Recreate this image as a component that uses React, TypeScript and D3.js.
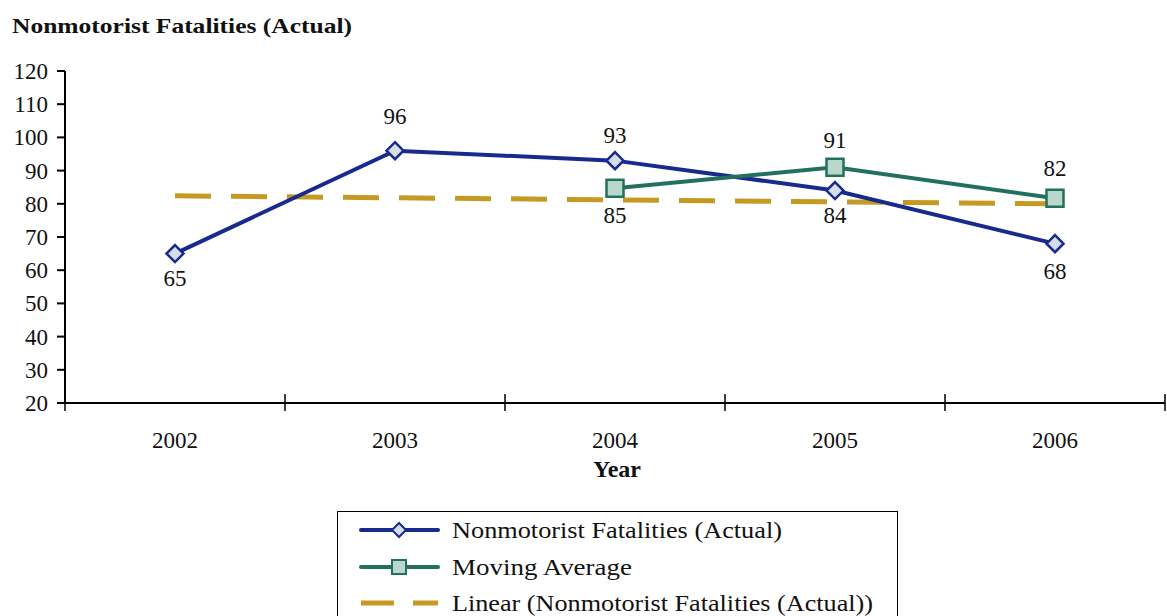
import React from "react";
import * as d3 from "d3";

const years = ["2002", "2003", "2004", "2005", "2006"];
const actual = [65, 96, 93, 84, 68];
const movingAvgYears = ["2004", "2005", "2006"];
const movingAvg = [84.67, 91, 81.67];
const yTicks = [20, 30, 40, 50, 60, 70, 80, 90, 100, 110, 120];
const actualLabelOffset = [24, -35, -26, 24, 27];
const maLabelOffset = [27, -27, -30];

const NAVY = "#182a8e";
const NAVY_FILL = "#d5dcea";
const GREEN = "#23705e";
const GREEN_FILL = "#b9d8cb";
const GOLD = "#c59a22";
const FONT = "'Liberation Serif', 'DejaVu Serif', serif";

export default function App() {
  const W = 1167, H = 616;
  const left = 65, right = 1165, top = 71, bottom = 403;
  const x = d3.scaleBand().domain(years).range([left, right]).padding(0);
  const cx = (yr: string) => (x(yr) as number) + x.bandwidth() / 2;
  const y = d3.scaleLinear().domain([20, 120]).range([bottom, top]);

  const line = d3.line<[string, number]>().x(d => cx(d[0])).y(d => y(d[1]));
  const actualPts: [string, number][] = years.map((yr, i) => [yr, actual[i]]);
  const maPts: [string, number][] = movingAvgYears.map((yr, i) => [yr, movingAvg[i]]);

  const xs = years.map((_, i) => i + 1);
  const mx = d3.mean(xs) as number;
  const my = d3.mean(actual) as number;
  const slope = d3.sum(xs.map((v, i) => (v - mx) * (actual[i] - my))) / d3.sum(xs.map(v => (v - mx) ** 2));
  const icpt = my - slope * mx;
  const trendPts: [string, number][] = [
    [years[0], icpt + slope * xs[0]],
    [years[years.length - 1], icpt + slope * xs[xs.length - 1]],
  ];

  const diamond = (px: number, py: number, r = 8.5) =>
    `M${px},${py - r}L${px + r},${py}L${px},${py + r}L${px - r},${py}Z`;

  const FS = 23;

  return (
    <svg width={W} height={H} style={{ position: "absolute", left: 0, top: 0, background: "#fff" }} fontFamily={FONT}>
      <text x={12} y={33} fontSize={22} fontWeight="bold" fill="#111" textLength={340} lengthAdjust="spacingAndGlyphs">
        Nonmotorist Fatalities (Actual)
      </text>

      <line x1={left} x2={left} y1={top} y2={bottom} stroke="#000" strokeWidth={2} />
      {yTicks.map(t => (
        <g key={t}>
          <line x1={left - 8} x2={left} y1={y(t)} y2={y(t)} stroke="#000" strokeWidth={2} />
          <text x={left - 17} y={y(t)} dy="0.35em" textAnchor="end" fontSize={FS} fill="#111">{t}</text>
        </g>
      ))}

      <line x1={left} x2={right} y1={bottom} y2={bottom} stroke="#000" strokeWidth={2} />
      {years.map((yr, i) => (
        <line key={"t" + i} x1={x(yr) as number} x2={x(yr) as number} y1={bottom - 9} y2={bottom + 8} stroke="#000" strokeWidth={1.5} />
      ))}
      <line x1={right} x2={right} y1={bottom - 9} y2={bottom + 8} stroke="#000" strokeWidth={1.5} />
      {years.map(yr => (
        <text key={yr} x={cx(yr)} y={440} dy="0.35em" textAnchor="middle" fontSize={FS} fill="#111">{yr}</text>
      ))}
      <text x={617} y={469} dy="0.35em" textAnchor="middle" fontSize={24} fontWeight="bold" fill="#111" textLength={48} lengthAdjust="spacingAndGlyphs">Year</text>

      <path d={line(trendPts) as string} fill="none" stroke={GOLD} strokeWidth={5} strokeDasharray="36 20" />

      <path d={line(actualPts) as string} fill="none" stroke={NAVY} strokeWidth={4} />
      <path d={line(maPts) as string} fill="none" stroke={GREEN} strokeWidth={4} />

      {actualPts.map(([yr, v], i) => (
        <path key={"d" + i} d={diamond(cx(yr), y(v))} fill={NAVY_FILL} stroke={NAVY} strokeWidth={2.5} />
      ))}
      {maPts.map(([yr, v], i) => (
        <rect key={"s" + i} x={cx(yr) - 8.5} y={y(v) - 8.5} width={17} height={17} fill={GREEN_FILL} stroke={GREEN} strokeWidth={2.5} />
      ))}

      {actualPts.map(([yr, v], i) => (
        <text key={"la" + i} x={cx(yr)} y={y(v) + actualLabelOffset[i]} dy="0.35em" textAnchor="middle" fontSize={FS} fill="#111">
          {Math.round(v)}
        </text>
      ))}
      {maPts.map(([yr, v], i) => (
        <text key={"lm" + i} x={cx(yr)} y={y(v) + maLabelOffset[i]} dy="0.35em" textAnchor="middle" fontSize={FS} fill="#111">
          {Math.round(v)}
        </text>
      ))}

      <rect x={337.5} y={511.5} width={560} height={120} fill="#fff" stroke="#000" strokeWidth={1} />
      <line x1={361} x2={438} y1={530} y2={530} stroke={NAVY} strokeWidth={4} strokeLinecap="round" />
      <path d={diamond(399, 530, 7)} fill={NAVY_FILL} stroke={NAVY} strokeWidth={2} />
      <text x={452} y={530} dy="0.35em" fontSize={FS} fill="#111" textLength={330} lengthAdjust="spacingAndGlyphs">Nonmotorist Fatalities (Actual)</text>
      <line x1={361} x2={438} y1={567} y2={567} stroke={GREEN} strokeWidth={4} strokeLinecap="round" />
      <rect x={392} y={560} width={14} height={14} fill={GREEN_FILL} stroke={GREEN} strokeWidth={2} />
      <text x={452} y={567} dy="0.35em" fontSize={FS} fill="#111" textLength={180} lengthAdjust="spacingAndGlyphs">Moving Average</text>
      <line x1={361} x2={438} y1={603} y2={603} stroke={GOLD} strokeWidth={5} strokeDasharray="33 19" />
      <text x={452} y={603} dy="0.35em" fontSize={FS} fill="#111" textLength={421} lengthAdjust="spacingAndGlyphs">Linear (Nonmotorist Fatalities (Actual))</text>
    </svg>
  );
}
